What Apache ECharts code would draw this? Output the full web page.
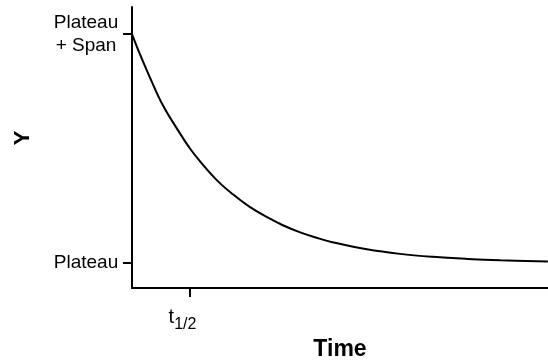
<!DOCTYPE html>
<html>
<head>
<meta charset="utf-8">
<script src="https://cdn.jsdelivr.net/npm/echarts@6/dist/echarts.min.js"></script>
<style>
html,body{margin:0;padding:0;background:#fff;}
#chart{width:548px;height:360px;}
</style>
</head>
<body>
<div id="chart"></div>
<script>
// Time in units of t1/2, Y as fraction of Span above Plateau
var timeValues = [0, 0.14, 0.31, 0.53, 0.83, 1.0, 1.17, 1.47, 1.74, 2.03, 2.33, 2.6, 2.9, 3.21, 3.47, 4.05, 4.62, 5.19, 5.78, 6.35, 7.17];
var yValues = [1.0, 0.91, 0.81, 0.69, 0.565, 0.5, 0.445, 0.36, 0.30, 0.245, 0.20, 0.165, 0.134, 0.108, 0.09, 0.06, 0.04, 0.027, 0.018, 0.012, 0.007];
var yTickValues = [0, 1];
var yTickLabels = ['Plateau', 'Plateau\n+ Span'];
var xTickValues = [1];
var xTickLabels = ['t1/2'];
var xName = 'Time';
var yName = 'Y';

var FONT = "'Liberation Sans', Arial, sans-serif";
var chart = echarts.init(document.getElementById('chart'), null, {renderer: 'canvas'});
var seriesData = timeValues.map(function (t, i) { return [t, yValues[i]]; });

chart.setOption({
  animation: false,
  backgroundColor: '#fff',
  grid: {left: 132, right: 0, top: 7, bottom: 72, containLabel: false, outerBoundsMode: 'none'},
  xAxis: {
    type: 'value',
    min: 0,
    max: 7.172,
    name: xName,
    nameLocation: 'middle',
    nameGap: 49,
    nameTextStyle: {fontFamily: FONT, fontSize: 23, fontWeight: 'bold', color: '#000'},
    axisLine: {show: true, onZero: false, lineStyle: {color: '#000', width: 2}},
    axisTick: {show: true, customValues: xTickValues, length: 9, lineStyle: {color: '#000', width: 2}},
    axisLabel: {
      show: true,
      customValues: xTickValues,
      margin: 19,
      padding: [0, 15, 0, 0],
      formatter: function (v) {
        var idx = xTickValues.indexOf(v);
        var s = xTickLabels[idx] || '';
        return '{t|' + s.charAt(0) + '}{s|' + s.slice(1) + '}';
      },
      rich: {
        t: {fontFamily: FONT, fontSize: 20, lineHeight: 20, verticalAlign: 'top', color: '#000'},
        s: {fontFamily: FONT, fontSize: 16, lineHeight: 16, verticalAlign: 'top', padding: [10, 0, 0, 0], color: '#000'}
      }
    },
    splitLine: {show: false}
  },
  yAxis: {
    type: 'value',
    min: -0.109,
    max: 1.118,
    name: yName,
    nameLocation: 'middle',
    nameGap: 98,
    nameTextStyle: {fontFamily: FONT, fontSize: 22, fontWeight: 'bold', color: '#000', padding: [0, 0, 0, 19]},
    axisLine: {show: true, onZero: false, lineStyle: {color: '#000', width: 2}},
    axisTick: {show: true, customValues: yTickValues, length: 9, lineStyle: {color: '#000', width: 2}},
    axisLabel: {
      show: true,
      customValues: yTickValues,
      margin: 13,
      formatter: function (v) {
        var idx = yTickValues.indexOf(v);
        var s = yTickLabels[idx] || '';
        return s.split('\n').map(function (l) { return '{a|' + l + '}'; }).join('\n');
      },
      rich: {
        a: {fontFamily: FONT, fontSize: 19, lineHeight: 23, width: 66, align: 'center', color: '#000'}
      }
    },
    splitLine: {show: false}
  },
  series: [{
    type: 'line',
    data: seriesData,
    smooth: 0.4,
    symbol: 'none',
    clip: false,
    lineStyle: {color: '#000', width: 2}
  }]
});
</script>
</body>
</html>
